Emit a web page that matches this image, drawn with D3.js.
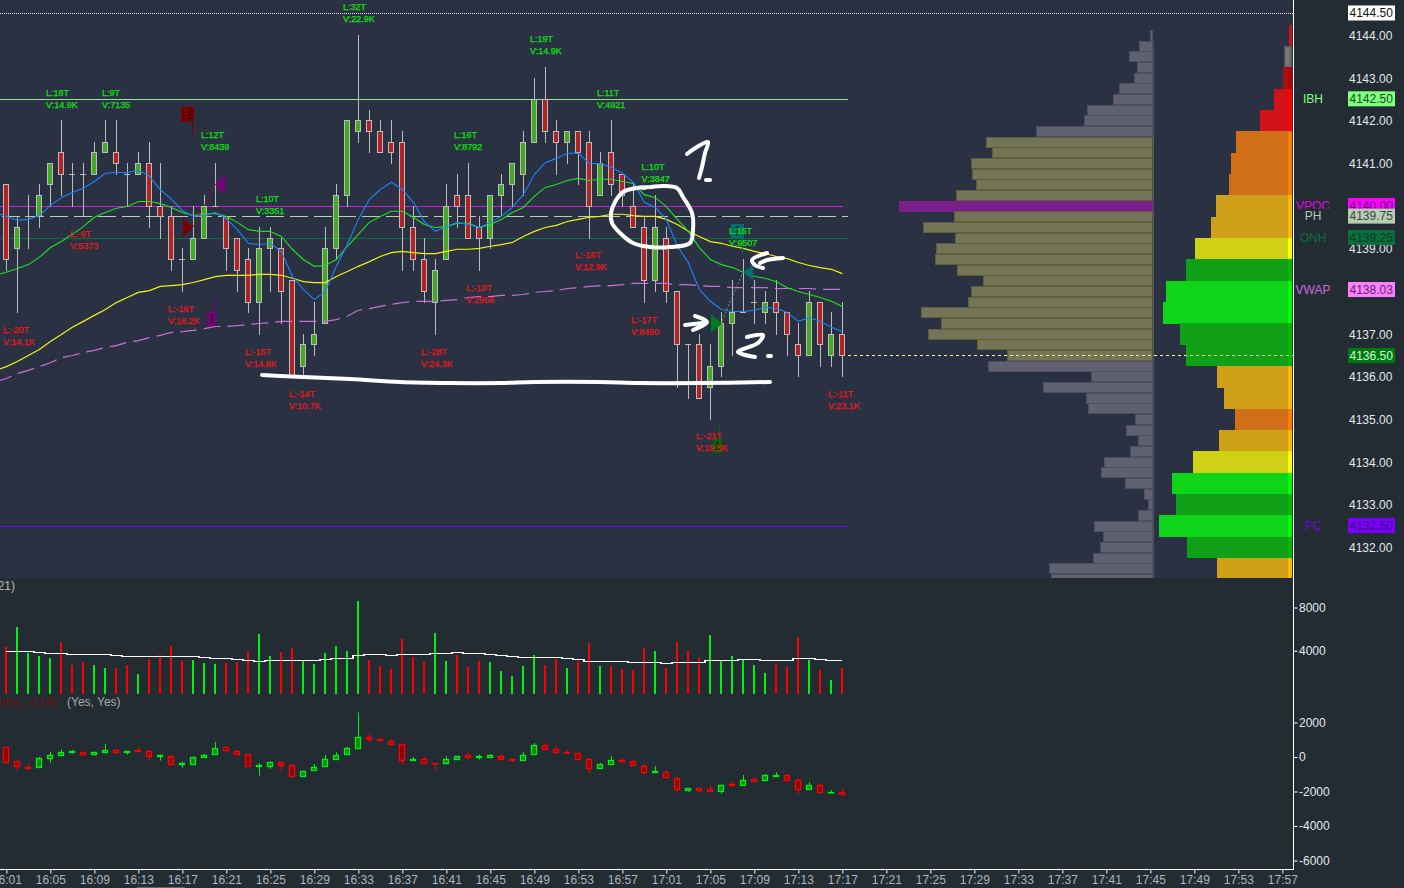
<!DOCTYPE html>
<html><head><meta charset="utf-8">
<script src="https://d3js.org/d3.v7.min.js"></script>
<style>html,body{margin:0;padding:0;background:#232c33;overflow:hidden}svg{display:block;font-family:"Liberation Sans",Arial,sans-serif}</style>
</head><body><svg id="c" width="1404" height="888"></svg>
<script>
const open_=[4140.5,4139,4139.75,4139.75,4140.5,4141.25,4140.75,4140.75,4140.75,4141.25,4141.25,4140.75,4140.75,4141,4140,4139.75,4138.75,4138.75,4139.25,4140,4139.75,4139.25,4138.75,4137.75,4139,4139,4138.25,4136.25,4136.75,4137.25,4139,4140.25,4141.75,4142,4141.75,4141.5,4141.5,4139.5,4138.75,4137.75,4138.75,4140.25,4140.25,4139.5,4139.25,4140.25,4140.5,4140.75,4141.5,4142.5,4141.75,4141.5,4141.75,4141.5,4140.25,4141.25,4140.75,4140,4139.5,4138.25,4139.25,4138,4136.75,4136.75,4135.75,4136.25,4137.25,4137.5,4137.75,4137.5,4137.75,4137.5,4136.75,4136.5,4137.75,4136.5,4137];
const high_=[4140.5,4139.75,4140.25,4140.5,4141,4142,4141,4141,4141.5,4142,4142,4141,4141.25,4141.5,4141,4140,4139,4140,4140.25,4141,4139.75,4139.25,4139,4139.5,4139.5,4139.25,4138.25,4137,4137.75,4139.5,4140.5,4142,4144,4142.25,4142,4142,4141.75,4140,4139.25,4138.75,4140.5,4140.75,4141,4139.75,4140.25,4140.75,4141,4141.75,4143,4143.25,4142,4141.75,4141.75,4141.75,4141.25,4142,4140.75,4140.5,4139.75,4140.25,4139.5,4138,4136.75,4137,4136.75,4137.5,4138.25,4138.75,4138.25,4138,4138.25,4137.5,4137.25,4138,4137.75,4137.5,4137.75];
const low_=[4138.5,4137.5,4139,4139.5,4140,4140.25,4140,4139.75,4140.75,4141.25,4140.75,4140,4140.75,4139.5,4139.25,4138.5,4138,4138.75,4139.25,4140,4138.5,4138,4137.5,4137,4138,4137.25,4136,4136,4136.5,4137.25,4138.75,4140,4141.5,4141.25,4141.25,4141,4138.5,4138.5,4137.75,4137,4138.75,4139.5,4139.25,4138.5,4139,4139.75,4140,4140.25,4141.5,4141.5,4140.75,4141,4140.5,4139.25,4140.25,4140.25,4140,4139.5,4137.75,4138,4137.75,4135.75,4135.5,4135.5,4135,4136,4136.5,4137.5,4137.25,4137.25,4137,4136.5,4136,4136.5,4136.25,4136.25,4136];
const close_=[4138.75,4139.5,4139.75,4140.25,4141,4140.75,4140.75,4140.75,4141.25,4141.5,4141,4140.75,4141,4140,4139.75,4138.75,4138.75,4139.25,4140,4140,4139,4138.5,4137.75,4139,4139.25,4138,4136,4136.75,4137,4139,4140.25,4142,4142,4141.75,4141.25,4141.25,4139.5,4138.75,4138,4138.5,4140,4140,4139.25,4139.25,4140.25,4140.5,4141,4141.5,4142.5,4141.75,4141.5,4141.75,4141.25,4140,4141,4140.5,4140.25,4139.5,4138.25,4139.5,4138,4136.75,4136.75,4135.5,4136.25,4137.25,4137.5,4137.5,4137.75,4137.75,4137.5,4137,4136.5,4137.75,4136.75,4137,4136.5];
// Moving averages; first entry is the value one bar before the first candle
const maBlue=[4139.85,4139.76,4139.67,4139.69,4139.78,4140.02,4140.20,4140.32,4140.42,4140.58,4140.77,4140.79,4140.79,4140.84,4140.70,4140.39,4140.16,4139.90,4139.76,4139.78,4139.85,4139.71,4139.45,4139.13,4139.10,4139.13,4138.94,4138.35,4138.05,4137.81,4138.00,4138.59,4139.10,4139.69,4140.16,4140.39,4140.56,4140.39,4140.09,4139.64,4139.41,4139.52,4139.62,4139.57,4139.50,4139.62,4139.76,4139.97,4140.27,4140.74,4141.02,4141.12,4141.24,4141.24,4141.00,4141.00,4140.91,4140.77,4140.56,4140.09,4139.97,4139.69,4139.06,4138.68,4138.05,4137.77,4137.58,4137.53,4137.53,4137.56,4137.63,4137.60,4137.51,4137.30,4137.39,4137.30,4137.16,4137.06];
const maGreen=[4138.38,4138.45,4138.54,4138.63,4138.80,4139.03,4139.17,4139.34,4139.52,4139.74,4139.85,4139.95,4139.99,4140.11,4140.11,4140.06,4139.97,4139.85,4139.78,4139.81,4139.83,4139.76,4139.62,4139.45,4139.41,4139.41,4139.29,4138.99,4138.75,4138.59,4138.61,4138.75,4139.06,4139.34,4139.62,4139.76,4139.88,4139.88,4139.74,4139.57,4139.50,4139.52,4139.60,4139.60,4139.50,4139.57,4139.69,4139.85,4139.97,4140.23,4140.44,4140.51,4140.60,4140.65,4140.60,4140.63,4140.63,4140.58,4140.53,4140.27,4140.20,4139.99,4139.69,4139.41,4139.03,4138.75,4138.63,4138.56,4138.45,4138.35,4138.31,4138.23,4138.09,4138.00,4137.93,4137.86,4137.77,4137.65];
const maYellow=[4136.15,4136.24,4136.36,4136.50,4136.64,4136.83,4136.99,4137.16,4137.30,4137.44,4137.58,4137.74,4137.86,4137.98,4138.02,4138.12,4138.14,4138.16,4138.21,4138.28,4138.35,4138.38,4138.38,4138.38,4138.40,4138.40,4138.38,4138.31,4138.23,4138.21,4138.21,4138.35,4138.47,4138.59,4138.70,4138.82,4138.91,4138.94,4138.91,4138.89,4138.89,4138.94,4138.99,4138.99,4139.01,4139.06,4139.10,4139.15,4139.29,4139.41,4139.50,4139.55,4139.64,4139.69,4139.74,4139.76,4139.81,4139.81,4139.78,4139.76,4139.76,4139.69,4139.57,4139.41,4139.29,4139.17,4139.13,4139.06,4139.01,4138.94,4138.89,4138.82,4138.77,4138.68,4138.61,4138.56,4138.52,4138.42];
const vwapLine=[4135.89,4135.96,4136.08,4136.15,4136.24,4136.33,4136.45,4136.50,4136.57,4136.62,4136.69,4136.73,4136.81,4136.85,4136.92,4136.97,4137.04,4137.06,4137.09,4137.13,4137.18,4137.18,4137.20,4137.23,4137.25,4137.27,4137.30,4137.30,4137.30,4137.30,4137.30,4137.34,4137.42,4137.56,4137.60,4137.65,4137.70,4137.74,4137.77,4137.77,4137.77,4137.79,4137.81,4137.86,4137.88,4137.88,4137.91,4137.91,4137.93,4137.98,4138.00,4138.02,4138.07,4138.09,4138.12,4138.14,4138.14,4138.16,4138.19,4138.19,4138.19,4138.19,4138.16,4138.16,4138.14,4138.12,4138.12,4138.09,4138.09,4138.09,4138.09,4138.07,4138.07,4138.07,4138.07,4138.05,4138.05,4138.05];
const volumes=[4360,6170,3780,3500,3315,4790,2700,2950,2670,2395,2395,2670,1840,3225,3590,4420,3040,3130,2855,2760,2855,2950,3960,5525,3500,3870,4235,3040,2760,3780,4420,3960,8565,3130,2580,2300,5065,3410,2950,5620,3040,3590,2490,3040,2950,2120,1660,2580,3590,2670,3225,2395,3040,4700,2580,2580,2300,2210,4235,3960,2395,4790,4050,3315,5435,3040,3500,3130,2670,1935,2760,2490,5250,3130,2210,1290,2395];
const volDirection="rggggrrrgg"+"rrgrrrrggg"+"rrrggrrggg"+"gggrrrrrrg"+"grrrgggggr"+"rgrrgrrrrg"+"rrrrgggggg"+"rrrgrgr";
const volSma=[3930,3930,3930,3840,3745,3745,3655,3655,3655,3655,3560,3470,3470,3470,3470,3470,3470,3470,3375,3285,3285,3195,3100,3010,3100,3100,3100,3100,3100,3195,3285,3285,3560,3655,3655,3560,3655,3655,3655,3745,3745,3840,3745,3745,3655,3560,3470,3375,3375,3375,3375,3285,3195,3010,3010,3010,3010,2915,2915,2915,2825,2915,2915,2915,3100,3100,3100,3195,3195,3100,3100,3100,3285,3285,3195,3100,3100];
const dOpen=[560,-250,-560,-600,-80,100,290,310,150,310,410,310,410,370,40,80,-420,-390,-20,150,560,370,190,-540,-500,-270,-480,-1120,-770,-540,-140,150,500,1140,1040,950,770,-190,-140,-350,-370,-140,100,-20,20,80,-140,-190,150,710,440,290,250,-140,-660,-420,-170,-210,-500,-890,-850,-1200,-1890,-1810,-1870,-1990,-1560,-1640,-1290,-1350,-1100,-1060,-1350,-1830,-1640,-2050,-2050];
const dHigh=[560,-250,-370,0,290,440,410,310,310,750,460,370,580,370,150,80,-270,40,190,870,620,370,190,-350,-270,-270,-420,-790,-420,120,270,580,2590,1310,1140,1040,770,0,-20,-350,40,80,270,150,170,140,-140,270,810,790,620,410,250,-60,-350,60,-80,-210,-370,-520,-770,-1200,-1810,-1760,-1620,-1600,-1410,-1040,-1180,-980,-890,-980,-1240,-1470,-1560,-1910,-1810];
const dLow=[-270,-790,-660,-600,-330,100,210,150,80,310,250,140,310,-210,-210,-420,-620,-390,-20,150,290,150,-540,-1080,-680,-790,-1120,-1120,-770,-540,-140,150,500,890,910,770,-440,-190,-370,-730,-370,-140,-100,-150,20,-140,-290,-190,150,440,270,170,-140,-910,-660,-420,-210,-480,-1020,-890,-1250,-2070,-2010,-2050,-1990,-2120,-1720,-1640,-1370,-1350,-1140,-1350,-2120,-1830,-2030,-2050,-2120];
const dClose=[-270,-540,-620,-80,100,310,330,150,310,390,310,370,370,40,100,-420,-350,-20,140,540,390,190,-540,-460,-270,-480,-1120,-790,-560,-140,140,500,1140,1020,970,770,-190,-140,-370,-370,-140,80,-20,40,100,-140,-190,140,710,440,270,270,-140,-660,-420,-190,-210,-480,-890,-830,-1180,-1870,-1810,-1890,-1990,-1600,-1640,-1310,-1370,-1060,-1040,-1350,-1830,-1640,-2030,-2030,-2120];
// Volume profile: price rows from 4144 downward in quarter points
const profileValues=[23,140,240,160,190,340,400,660,690,1170,1670,1610,1820,1810,1770,1970,2540,1990,2300,1980,2170,2180,1960,1700,1820,1850,2320,2120,2250,1760,1460,1650,620,1100,670,650,180,270,150,230,490,520,280,90,50,150,590,500,530,600,1040,1020];
const profileKinds="gggggggggg"+"oooooo"+"p"+"oooooooooooooo"+"ggggggggggggggggggggg";
// Right hand profile: rows from 4144 downward in half points
const heatValues=[3,8,9,18,32,56,61,63,76,81,97,106,126,129,112,106,75,68,57,73,99,120,116,133,105,75];
const heatKinds=["r0","s","r1","r","r","o","o","o","a","a","y","d","b","b","d","d","a","a","o","a","y","b","d","b","d","a"];
const priceTicks=[4144,4143,4142,4141,4140,4139,4138,4137,4136,4135,4134,4133,4132];
const levels=[
 {name:"VPOC",price:4140,shown:"4140.00",line:"#dd11dd",box:"#ff00ff",txt:"#60007a",lab:"#e600e6"},
 {name:"IBH",price:4142.5,shown:"4142.50",line:"#8fe88f",box:"#80ff80",txt:"#1c4a1c",lab:"#80ff80"},
 {name:"PH",price:4139.75,shown:"4139.75",line:"#b9cfb0",box:"#b7ccb4",txt:"#3a473a",lab:"#b7ccb4",dash:"18,6"},
 {name:"ONH",price:4139.25,shown:"4139.25",line:"#0b6e3e",box:"#0b6e3e",txt:"#063d22",lab:"#0b6e3e"},
 {name:"VWAP",price:4138.03,shown:"4138.03",line:null,box:"#ff80ff",txt:"#5a2a6a",lab:"#c070d8"},
 {name:"PC",price:4132.5,shown:"4132.50",line:"#7a00ff",box:"#7a00ff",txt:"#3c0080",lab:"#6a10d0"}];
const barNotes=[
 ["L:32T","V:22.9K",343,7,1],["L:18T","V:14.9K",46,93,1],["L:9T","V:7135",102,93,1],["L:12T","V:8439",201,135,1],["L:10T","V:3351",256,199,1],["L:16T","V:8792",454,135,1],["L:19T","V:14.9K",530,39,1],["L:11T","V:4921",597,93,1],["L:10T","V:3847",641.5,167,1],["L:15T","V:9507",729,231,1],
 ["L:-9T","V:5373",70,234,0],["L:-20T","V:14.1K",3,330,0],["L:-16T","V:18.2K",168,309,0],["L:-16T","V:14.8K",245,352,0],["L:-14T","V:10.7K",289,394,0],["L:-28T","V:24.3K",421,352,0],["L:-10T","V:2956",466,288,0],["L:-16T","V:12.9K",575,255,0],["L:-17T","V:8450",631,320,0],["L:-21T","V:19.5K",696,436,0],["L:-11T","V:23.1K",828,394,0]];

const W=1404,H=888,axisX=1293,mainBottom=578,axisY=869;
const BG="#2a3142",PANEL="#232c33";
const svg=d3.select("#c");
const t0=new Date(2021,0,1,16,1),t1=new Date(2021,0,1,17,17);
const xTime=d3.scaleTime().domain([t0,t1]).range([6.33,842.33]);
const x=i=>xTime(new Date(+t0+i*60000));
const xb=i=>Math.round(x(i));
const y=d3.scaleLinear().domain([4144,4132]).range([35.5,547.5]);
const yVol=d3.scaleLinear().domain([0,8000]).range([694,607.5]);
const yDelta=d3.scaleLinear().domain([2000,-6000]).range([722.5,860.5]);
const profW=d3.scaleLinear().domain([0,2540]).range([0,254]);
const heatW=d3.scaleLinear().domain([0,133]).range([0,133]);
const n=open_.length;

svg.append("rect").attr("width",W).attr("height",H).attr("fill",PANEL);
svg.append("rect").attr("width",axisX).attr("height",mainBottom).attr("fill",BG);
svg.append("clipPath").attr("id","mc").append("rect").attr("width",axisX).attr("height",mainBottom);

// profile
const profileRight=1152.5;
const profCols={g:["#5f6171","#4d4f61"],o:["#737556","#5b5d3d"],p:["#7b1f8a","#7b1f8a"]};
const prof=svg.append("g").attr("clip-path","url(#mc)");
prof.selectAll("rect").data(profileValues).join("rect")
 .attr("x",d=>Math.round(profileRight-profW(d))+.5).attr("width",d=>Math.round(profW(d)))
 .attr("y",(d,i)=>Math.round(y(4144-i*.25)-5.5)+.5).attr("height",10)
 .attr("fill",(d,i)=>profCols[profileKinds[i]][0]).attr("stroke",(d,i)=>profCols[profileKinds[i]][1]);
prof.append("line").attr("x1",profileRight).attr("x2",profileRight).attr("y1",30).attr("y2",mainBottom).attr("stroke","#4d4f61");

// heat profile
const heatCols={r0:["#cc1111","#cc1111"],s:["#666","#6f6f6f"],r1:["#a81014","#b80000"],r:["#d11319","#ff0000"],o:["#d06f18","#ff8000"],a:["#cf9f17","#ffb800"],y:["#d0d015","#ffff00"],d:["#0fa018","#00b900"],b:["#0fd518","#00ff00"]};
const heatRight=1292;
const heat=svg.append("g").attr("clip-path","url(#mc)").attr("shape-rendering","crispEdges");
heatValues.forEach((v,i)=>{
 const p=4144-i*.5,top=y(p)-10.67,k=heatCols[heatKinds[i]];
 const w=heatW(v);
 if(heatKinds[i]==="s"){
  heat.append("rect").attr("x",heatRight-w).attr("y",top).attr("width",w-1).attr("height",21.3).attr("fill","#6b6b6b").attr("stroke","#555");
  heat.append("rect").attr("x",heatRight-w+2).attr("y",top+2).attr("width",w-5).attr("height",17).attr("fill","#7a7a7a");
 } else {
  heat.append("rect").attr("x",heatRight-w).attr("y",top).attr("width",w).attr("height",21.34).attr("fill",k[0]);
  heat.append("rect").attr("x",heatRight-Math.min(4,w)).attr("y",top).attr("width",Math.min(4,w)).attr("height",21.34).attr("fill",k[1]);
 }
});

// horizontal levels
svg.append("line").attr("x1",0).attr("x2",axisX).attr("y1",13.5).attr("y2",13.5).attr("stroke","#e8e8e8").attr("stroke-dasharray","1,1");
levels.filter(l=>l.line).forEach(l=>{
 const yy=Math.floor(y(l.price))+.5;
 svg.append("line").attr("x1",l.dash?2:0).attr("x2",l.name==="VPOC"?843:848).attr("y1",yy).attr("y2",yy)
  .attr("stroke",l.line).attr("stroke-dasharray",l.dash||null);
});
svg.append("line").attr("x1",xb(76)).attr("x2",axisX).attr("y1",355.5).attr("y2",355.5).attr("stroke","#f4f48a").attr("stroke-dasharray","3,3");

// candles
const STROKE="#bcbcbc";
const cg=svg.append("g");
d3.range(n).forEach(i=>{
 const cx=xb(i)+.5;
 cg.append("line").attr("x1",cx).attr("x2",cx).attr("y1",Math.floor(y(high_[i]))).attr("y2",Math.floor(y(low_[i]))+1).attr("stroke",STROKE);
 const top=Math.floor(y(Math.max(open_[i],close_[i]))),bot=Math.floor(y(Math.min(open_[i],close_[i])));
 if(top===bot){cg.append("line").attr("x1",cx-3.5).attr("x2",cx+2.5).attr("y1",top+.5).attr("y2",top+.5).attr("stroke",STROKE);}
 else cg.append("rect").attr("x",xb(i)-2.5).attr("width",5).attr("y",top+.5).attr("height",bot-top)
  .attr("fill",close_[i]>open_[i]?"#44aa22":"#b22222").attr("stroke",STROKE);
});

// moving averages
const lineFn=d3.line().x((d,i)=>x(i-1)).y(d=>y(d));
const mg=svg.append("g").attr("fill","none").attr("clip-path","url(#mc)");
mg.append("path").attr("d",lineFn(vwapLine)).attr("stroke","#c86fd8").attr("stroke-width",1.2).attr("stroke-dasharray","17,7");
mg.append("path").attr("d",lineFn(maYellow)).attr("stroke","#f2f215").attr("stroke-width",1.2);
mg.append("path").attr("d",lineFn(maGreen)).attr("stroke","#22e022").attr("stroke-width",1.1);
mg.append("path").attr("d",lineFn(maBlue)).attr("stroke","#1a86ff").attr("stroke-width",1.1);

// signal markers
const marks=svg.append("g");
function tri(pts,c){marks.append("polygon").attr("points",pts.join(" ")).attr("fill",c);}
function flag(xr,yr,sx,sy,c,label){
 marks.append("line").attr("x1",sx).attr("x2",sx).attr("y1",sy[0]).attr("y2",sy[1]).attr("stroke",c);
 marks.append("rect").attr("x",xr[0]).attr("y",yr[0]).attr("width",xr[1]-xr[0]).attr("height",yr[1]-yr[0]).attr("fill",c);
 marks.append("text").attr("x",(xr[0]+xr[1])/2).attr("y",(yr[0]+yr[1])/2).attr("dy",".36em").attr("text-anchor","middle").attr("font-size",12).attr("fill","#111").text(label);
}
flag([181,194],[107,122],192.5,[122,137],"#7a0000","-1");
flag([207,216],[312,326],214.5,[297,312],"#7a007a","1");
flag([731,744],[224,238],742.5,[238,254],"#007070","1");
flag([713,722],[439,453],719.5,[425,439],"#006600","1");
marks.append("line").attr("x1",193).attr("y1",227).attr("x2",215).attr("y2",185).attr("stroke","#b01010").attr("stroke-dasharray","2,2");
marks.append("line").attr("x1",722).attr("y1",321).attr("x2",743).attr("y2",272).attr("stroke","#888").attr("stroke-dasharray","2,2");
tri([[183,218],[193,227.5],[183,237]],"#7a0000");
tri([[225,175],[215,184.5],[225,194]],"#7a007a");
tri([[753,265],[743,272],[753,280]],"#007070");
tri([[711,314],[722,323.5],[711,333]],"#007a20");

// bar notes
const notes=svg.append("g").attr("font-size",9);
barNotes.forEach(b=>{
 const c=b[4]?"#0ee010":"#ee1515";
 [b[0],b[1]].forEach((s,j)=>notes.append("text").attr("x",b[2]).attr("y",b[3]+j*12).attr("dy",".36em").attr("fill",c).attr("stroke",c).attr("stroke-width",.25).text(s));
});

// volume
svg.append("g").attr("shape-rendering","crispEdges").selectAll("line").data(volumes).join("line")
 .attr("x1",(d,i)=>xb(i)).attr("x2",(d,i)=>xb(i)).attr("y1",yVol(0)).attr("y2",d=>yVol(d))
 .attr("stroke",(d,i)=>volDirection[i]==="r"?"#ff0000":"#00f010").attr("stroke-width",2);
svg.append("path").attr("fill","none").attr("stroke","#fff").attr("stroke-width",1.5).attr("shape-rendering","crispEdges")
 .attr("d",d3.line().curve(d3.curveStep).x((d,i)=>x(i)).y(d=>yVol(d))(volSma));

// delta candles
const dg=svg.append("g");
d3.range(n).forEach(i=>{
 const up=dClose[i]>=dOpen[i],col=up?"#00f010":"#ff0000",fill=up?"#008a00":"#8b0000";
 const cx=xb(i)+.5;
 dg.append("line").attr("x1",cx).attr("x2",cx).attr("y1",yDelta(dHigh[i])).attr("y2",yDelta(dLow[i])).attr("stroke",col);
 const top=Math.round(yDelta(Math.max(dOpen[i],dClose[i]))),bot=Math.round(yDelta(Math.min(dOpen[i],dClose[i])));
 dg.append("rect").attr("x",xb(i)-2.5).attr("width",5).attr("y",top+.5).attr("height",Math.max(bot-top,.5)).attr("fill",fill).attr("stroke",col).attr("stroke-width",1.3);
});

// text in sub panels
svg.append("text").attr("x",15).attr("y",586).attr("dy",".36em").attr("text-anchor","end").attr("font-size",12).attr("fill","#b8b8b8").text("(21)");
svg.append("text").attr("x",58).attr("y",702).attr("dy",".36em").attr("text-anchor","end").attr("font-size",12).attr("fill","#6b1212").text("Close: -2146");
svg.append("text").attr("x",67).attr("y",702).attr("dy",".36em").attr("font-size",12).attr("fill","#a8a8a8").text("(Yes, Yes)");

// frame
svg.append("line").attr("x1",axisX+.5).attr("x2",axisX+.5).attr("y1",0).attr("y2",axisY+1).attr("stroke","#fff");

// axes
const fmt=d3.timeFormat("%H:%M");
const tv=d3.range(0,30).map(k=>new Date(+t0+k*4*60000));
const xAx=svg.append("g").attr("transform",`translate(0,${axisY+.5})`).call(d3.axisBottom(xTime).tickValues(tv).tickFormat(fmt).tickSize(4).tickPadding(2).tickSizeOuter(0));
xAx.select(".domain").attr("stroke","#fff").attr("d",`M0,0H${axisX}`);
xAx.selectAll("line").attr("stroke","#fff");
xAx.selectAll("text").attr("font-size",12).attr("font-family","inherit").attr("fill","#aab5c2");
function styleR(g){g.select(".domain").remove();g.selectAll("line").attr("stroke","#fff");g.selectAll("text").attr("font-size",12).attr("font-family","inherit").attr("fill","#e2e8ee");}
svg.append("g").attr("transform",`translate(${axisX+.5},0)`).call(d3.axisRight(yVol).tickValues([4000,8000]).tickFormat(d3.format("d")).tickSize(4).tickPadding(1.5)).call(styleR);
svg.append("g").attr("transform",`translate(${axisX+.5},0)`).call(d3.axisRight(yDelta).tickValues([2000,0,-2000,-4000,-6000]).tickFormat(d=>String(d)).tickSize(4).tickPadding(1.5)).call(styleR);
const pa=svg.append("g").attr("transform","translate(1349,0)").call(d3.axisRight(y).tickValues(priceTicks).tickFormat(d3.format(".2f")).tickSize(0).tickPadding(0)).call(styleR);

// value boxes
const bx=svg.append("g").attr("font-size",12);
function box(label,val,yy,bg,txt,lab){
 if(label){
  bx.append("rect").attr("x",1296).attr("y",yy-7.5).attr("width",48).attr("height",15).attr("fill",PANEL);
  bx.append("text").attr("x",1313).attr("y",yy).attr("dy",".36em").attr("text-anchor","middle").attr("fill",lab).text(label);
 }
 bx.append("rect").attr("x",1348).attr("y",yy-7.5).attr("width",47).attr("height",15).attr("fill",bg);
 bx.append("text").attr("x",1349.5).attr("y",yy).attr("dy",".36em").attr("fill",txt).text(val);
}
const ordered=levels.slice().sort((a,b)=>b.price-a.price);
ordered.forEach(l=>box(l.name,l.shown,y(l.price)-.7,l.box,l.txt,l.lab));
box(null,"4144.50",13,"#fff","#111");
box(null,"4136.50",y(4136.5),"#007a10","#c8ffd0");

// hand-drawn strokes
const handLine=d3.line().curve(d3.curveCatmullRom);
const strokes=[
 [[262,375],[280,376],[350,379],[400,382],[450,383],[500,383],[535,382],[600,382],[640,383],[700,383],[770,382]],
 [[653,187],[637,188],[623,192],[615,202],[611,213],[612,223],[620,233],[633,243],[650,247],[670,247],[690,243],[693,230],[692,213],[683,197],[677,188],[663,186],[643,188]],
 [[687,154],[697,147],[708,142],[705,153],[702,167],[699,178]],
 [[706,180],[710,180]],
 [[783,258],[767,260],[760,263]],
 [[767,253],[752,260],[755,265],[763,268]],
 [[685,325],[703,323]],
 [[695,316],[707,322],[693,330]],
 [[747,337],[763,335],[758,343],[738,352],[755,357]],
 [[768,356],[771,356]]];
const hg=svg.append("g").attr("fill","none").attr("stroke","#fff").attr("stroke-width",4).attr("stroke-linecap","round").attr("stroke-linejoin","round");
strokes.forEach(s=>hg.append("path").attr("d",handLine(s)));
svg.append("rect").attr("x",137).attr("y",887).attr("width",48).attr("height",1).attr("fill","#666");
</script>
</body></html>
